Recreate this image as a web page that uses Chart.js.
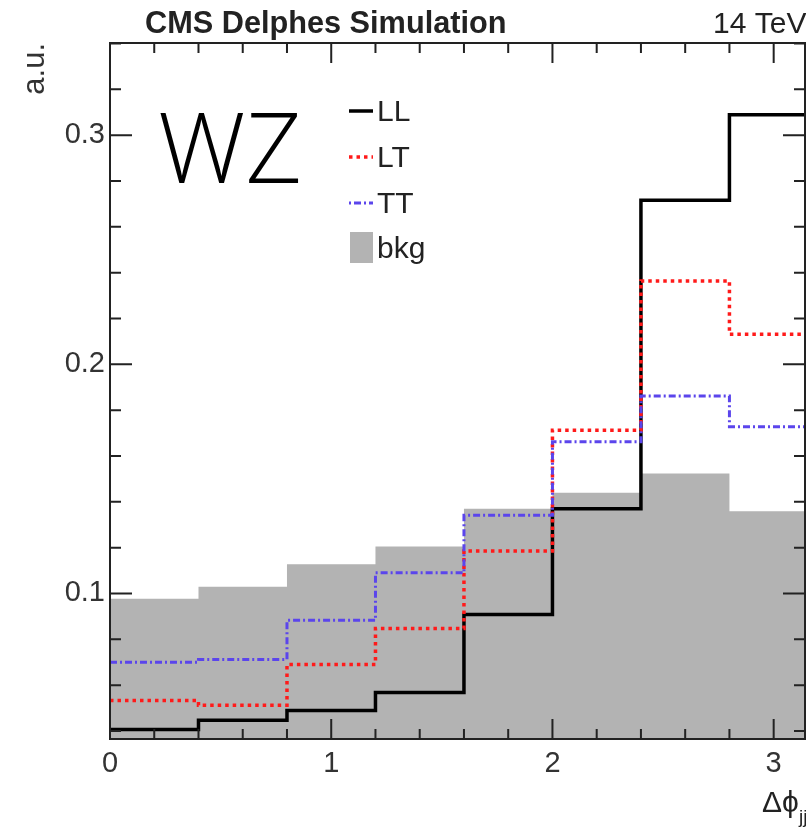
<!DOCTYPE html>
<html>
<head>
<meta charset="utf-8">
<script src="https://cdn.jsdelivr.net/npm/chart.js@4"></script>
<style>
  html, body { margin: 0; padding: 0; background: #fff; }
  #c { display: block; }
</style>
</head>
<body>
<canvas id="c" width="806" height="829"></canvas>
<script>
// bin edges in delta phi (last one is pi)
const binEdges = [0, 0.4, 0.8, 1.2, 1.6, 2.0, 2.4, 2.8, Math.PI];
const llVals  = [0.0406, 0.0447, 0.0489, 0.0568, 0.0908, 0.1370, 0.2716, 0.3089];
const ltVals  = [0.0533, 0.0512, 0.0690, 0.0847, 0.1185, 0.1712, 0.2364, 0.2131];
const ttVals  = [0.0700, 0.0712, 0.0883, 0.1090, 0.1341, 0.1662, 0.1862, 0.1728];
const bkgVals = [0.0977, 0.1029, 0.1127, 0.1205, 0.1370, 0.1440, 0.1524, 0.1359];
const xTicks = [0, 1, 2, 3];
const yTicks = [0.1, 0.2, 0.3];
const legendNames = ["LL", "LT", "TT", "bkg"];

const FONT = "'Liberation Sans', Arial, Helvetica, sans-serif";
const INK = "#222";
const RED = "#ff1a1a";
const BLUE = "#5b45ec";
const GRAY = "#b3b3b3";

// step points: left edge of each bin + closing point at the last edge
function steps(vals) {
  const pts = vals.map((v, i) => ({ x: binEdges[i], y: v }));
  pts.push({ x: binEdges[binEdges.length - 1], y: vals[vals.length - 1] });
  return pts;
}

// ROOT style frame with inward ticks, plus the extra text
const rootFrame = {
  id: "rootFrame",
  afterDatasetsDraw(chart) {
    const { ctx, chartArea: a, scales } = chart;
    const xs = scales.x, ys = scales.y;
    ctx.save();
    ctx.strokeStyle = INK;
    ctx.lineWidth = 2;
    ctx.strokeRect(a.left, a.top, a.right - a.left, a.bottom - a.top);

    ctx.beginPath();
    for (let k = 0; k * 0.2 <= xs.max + 1e-9; k++) {
      const px = xs.getPixelForValue(k * 0.2);
      const len = k % 5 === 0 ? 20 : 10;
      ctx.moveTo(px, a.bottom); ctx.lineTo(px, a.bottom - len);
      ctx.moveTo(px, a.top); ctx.lineTo(px, a.top + len);
    }
    for (let k = 0; k * 0.02 <= ys.max + 1e-9; k++) {
      const v = k * 0.02;
      if (v < ys.min) continue;
      const py = ys.getPixelForValue(v);
      const len = k % 5 === 0 ? 22 : 11;
      ctx.moveTo(a.left, py); ctx.lineTo(a.left + len, py);
      ctx.moveTo(a.right, py); ctx.lineTo(a.right - len, py);
    }
    ctx.stroke();

    // header
    ctx.fillStyle = INK;
    ctx.textBaseline = "alphabetic";
    ctx.font = "bold 30.7px " + FONT;
    ctx.fillText("CMS Delphes Simulation", 145, 33);
    ctx.font = "30px " + FONT;
    ctx.fillText("14 TeV", 713, 33);

    // x title (runs off the right edge)
    ctx.font = "30px " + FONT;
    ctx.fillText("\u0394\u03d5", 762, 812);
    ctx.font = "19px " + FONT;
    ctx.fillText("jj", 799, 823);

    // WZ label
    ctx.fillStyle = "#000";
    ctx.font = "300 98px 'Open Sans', sans-serif";
    ctx.fillText("WZ", 158, 183);

    // legend
    const lx = 349, rowY = [111, 157, 203, 248];
    ctx.lineWidth = 3.5;
    ctx.strokeStyle = "#000"; ctx.setLineDash([]);
    ctx.beginPath(); ctx.moveTo(lx, rowY[0]); ctx.lineTo(lx + 24, rowY[0]); ctx.stroke();
    ctx.strokeStyle = RED; ctx.setLineDash([3.5, 4]);
    ctx.beginPath(); ctx.moveTo(lx, rowY[1]); ctx.lineTo(lx + 24, rowY[1]); ctx.stroke();
    ctx.strokeStyle = BLUE; ctx.lineWidth = 3; ctx.setLineDash([2, 3, 7, 3]);
    ctx.beginPath(); ctx.moveTo(lx, rowY[2]); ctx.lineTo(lx + 24, rowY[2]); ctx.stroke();
    ctx.setLineDash([]);
    ctx.fillStyle = GRAY;
    ctx.fillRect(lx + 1, 232, 23, 31);
    ctx.fillStyle = INK;
    ctx.font = "30px " + FONT;
    legendNames.forEach((n, i) => ctx.fillText(n, 377, rowY[i] + 10));
    ctx.restore();
  }
};

new Chart(document.getElementById("c"), {
  type: "line",
  data: {
    datasets: [
      { label: "bkg", data: steps(bkgVals), stepped: true, borderWidth: 0, pointRadius: 0,
        backgroundColor: GRAY, borderColor: GRAY, fill: "start", order: 4 },
      { label: "LL", data: steps(llVals), stepped: true, borderWidth: 3.5, pointRadius: 0,
        borderColor: "#000", fill: false, order: 3 },
      { label: "LT", data: steps(ltVals), stepped: true, borderWidth: 3.5, pointRadius: 0,
        borderColor: RED, borderDash: [3.5, 4], fill: false, order: 2 },
      { label: "TT", data: steps(ttVals), stepped: true, borderWidth: 3, pointRadius: 0,
        borderColor: BLUE, borderDash: [7, 3, 2, 3], fill: false, order: 1 }
    ]
  },
  options: {
    responsive: false,
    animation: false,
    events: [],
    layout: { padding: { top: 43, right: 1, left: 0, bottom: 0 } },
    plugins: { legend: { display: false }, tooltip: { enabled: false } },
    scales: {
      x: {
        type: "linear", min: 0, max: Math.PI,
        afterFit: s => { s.height = 90; },
        afterBuildTicks: s => { s.ticks = xTicks.map(v => ({ value: v })); },
        grid: { display: false, drawTicks: false },
        border: { display: false },
        ticks: { autoSkip: false, maxRotation: 0, padding: 8, color: "#333",
                 font: { family: FONT, size: 29 }, callback: v => String(v) }
      },
      y: {
        type: "linear", min: 0.0365, max: 0.3402,
        afterFit: s => { s.width = 110; },
        afterBuildTicks: s => { s.ticks = yTicks.map(v => ({ value: v })); },
        grid: { display: false, drawTicks: false },
        border: { display: false },
        ticks: { autoSkip: false, padding: 5, color: "#333",
                 font: { family: FONT, size: 29 }, callback: v => v.toFixed(1) },
        title: { display: true, text: "a.u.", align: "end", color: "#333",
                 font: { family: FONT, size: 31 }, padding: { top: 17, bottom: 0 } }
      }
    }
  },
  plugins: [rootFrame]
});
</script>
</body>
</html>
